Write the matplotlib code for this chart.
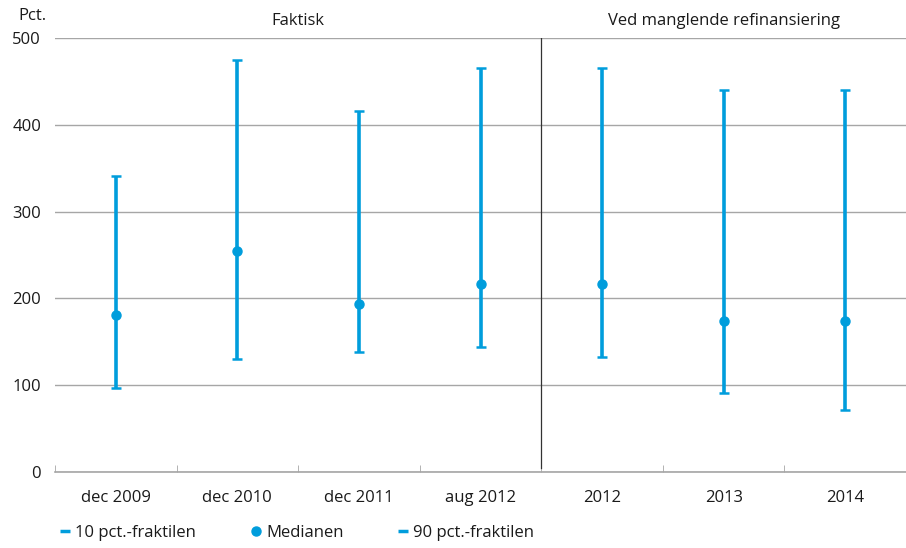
import numpy as np
import matplotlib.pyplot as plt
from matplotlib.lines import Line2D

plt.rcParams['font.family'] = ['Open Sans', 'DejaVu Sans']

categories = ["dec 2009", "dec 2010", "dec 2011", "aug 2012", "2012", "2013", "2014"]
p10 = [97, 130, 138, 144, 132, 91, 71]
median = [181, 255, 194, 217, 217, 174, 174]
p90 = [341, 475, 416, 465, 465, 440, 440]
sections = ["Faktisk", "Ved manglende refinansiering"]
n_actual = 4

blue = "#009ddc"
grid = "#a6a6a6"
txt = "#1a1a1a"
fs = 12

fig = plt.figure(figsize=(9.06, 5.48), dpi=100)
ax = fig.add_axes([55 / 906, (548 - 472) / 548, 851 / 906, 434 / 548])

x = np.arange(len(categories))
med = np.array(median)
lo = med - np.array(p10)
hi = np.array(p90) - med
ax.errorbar(x, med, yerr=[lo, hi], fmt='o', color=blue, ms=6.5,
            elinewidth=2.6, capsize=3.5, capthick=1.8, zorder=3)

ax.set_xlim(-0.5, len(categories) - 0.5)
ax.set_ylim(0, 500)
ax.set_yticks([0, 100, 200, 300, 400, 500])
ax.yaxis.grid(True, color=grid, lw=1)
ax.set_axisbelow(True)
ax.tick_params(axis='y', length=0, labelsize=fs, labelcolor=txt, pad=10)

ax.set_xticks(x)
ax.set_xticklabels(categories)
ax.set_xticks(np.arange(-0.5, len(categories) + 0.5, 1), minor=True)
ax.tick_params(axis='x', which='major', length=0, labelsize=fs, labelcolor=txt, pad=13)
ax.tick_params(axis='x', which='minor', direction='in', length=5, color=grid)

for s in ['top', 'right', 'left']:
    ax.spines[s].set_visible(False)
ax.spines['bottom'].set_color(grid)
ax.spines['bottom'].set_linewidth(1.2)

# divider between actual and projected
ax.plot([n_actual - 0.5, n_actual - 0.5], [5, 500], color="#333333", lw=0.9)

ax.text((n_actual - 1) / 2, 510, sections[0], ha='center', va='bottom', fontsize=fs, color=txt)
ax.text((n_actual + len(categories) - 1) / 2, 510, sections[1], ha='center', va='bottom',
        fontsize=fs, color=txt)
fig.text(18 / 906, 1 - 16 / 548, "Pct.", ha='left', va='center', fontsize=fs, color=txt)

handles = [
    Line2D([], [], color=blue, marker='_', ms=7, mew=2.5, ls='none'),
    Line2D([], [], color=blue, marker='o', ms=6.5, ls='none'),
    Line2D([], [], color=blue, marker='_', ms=7, mew=2.5, ls='none'),
]
labels = ["10 pct.-fraktilen", "Medianen", "90 pct.-fraktilen"]
fig.legend(handles, labels, loc='center left', bbox_to_anchor=(45 / 906, 1 - 533 / 548),
           ncol=3, frameon=False, fontsize=fs, handlelength=0.6, handletextpad=0.3,
           columnspacing=3.3, labelcolor=txt)

fig.savefig("out.png", dpi=100)
